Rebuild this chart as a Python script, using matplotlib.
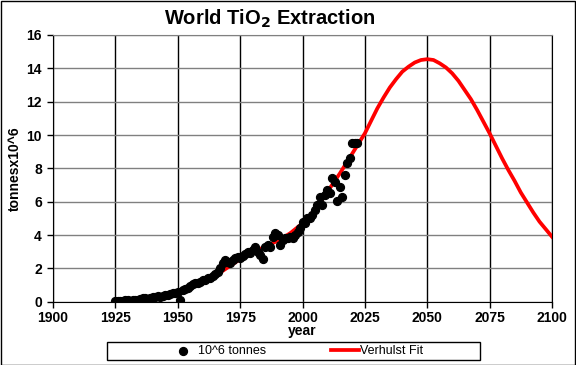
import matplotlib
matplotlib.use("Agg")
import matplotlib.pyplot as plt
from matplotlib.patches import Rectangle

plt.rcParams["font.family"] = ["Liberation Sans", "DejaVu Sans"]

# annual extraction, 10^6 tonnes
years = list(range(1925, 2023))
tonnes = [0.05, 0.05, 0.06, 0.07, 0.08, 0.08, 0.07, 0.08, 0.10, 0.13,
          0.17, 0.20, 0.22, 0.18, 0.22, 0.28, 0.30, 0.33, 0.30, 0.35,
          0.40, 0.42, 0.47, 0.50, 0.55, 0.60, 0.12, 0.70, 0.75, 0.80,
          0.95, 1.05, 1.15, 1.10, 1.20, 1.30, 1.30, 1.40, 1.45, 1.55,
          1.65, 1.80, 2.00, 2.30, 2.50, 2.40, 2.35, 2.50, 2.60, 2.70,
          2.65, 2.75, 2.85, 3.00, 2.90, 3.10, 3.30, 3.00, 2.80, 2.55,
          3.30, 3.40, 3.30, 3.90, 4.10, 4.00, 3.40, 3.70, 3.80, 3.80,
          3.90, 3.80, 4.00, 4.20, 4.40, 4.80, 4.70, 5.00, 5.00, 5.20,
          5.50, 5.80, 6.30, 5.80, 6.40, 6.70, 6.50, 7.40, 7.20, 6.05,
          6.90, 6.30, 7.60, 8.30, 8.60, 9.50, 9.50, 9.50]

# Verhulst fit curve
fit_years = [1925, 1930, 1935, 1940, 1945, 1950, 1955, 1960, 1965, 1970,
             1975, 1980, 1985, 1990, 1995, 2000, 2005, 2010, 2015, 2020,
             2022.5, 2025, 2027.5, 2030, 2032.5, 2035, 2037.5, 2040, 2042.5, 2045,
             2047.5, 2050, 2052.5, 2055, 2057.5, 2060, 2062.5, 2065, 2067.5, 2070,
             2072.5, 2075, 2077.5, 2080, 2082.5, 2085, 2087.5, 2090, 2092.5, 2095,
             2097.5, 2100]
fit_vals = [0.05, 0.10, 0.20, 0.30, 0.45, 0.65, 0.90, 1.20, 1.55, 2.05,
            2.55, 2.95, 3.30, 3.65, 4.10, 4.70, 5.50, 6.60, 7.70, 8.90,
            9.50, 10.10, 10.85, 11.60, 12.25, 12.85, 13.35, 13.80, 14.10, 14.35,
            14.50, 14.55, 14.50, 14.30, 14.05, 13.70, 13.25, 12.70, 12.15, 11.50,
            10.80, 10.10, 9.35, 8.60, 7.90, 7.25, 6.55, 5.95, 5.35, 4.80,
            4.35, 3.90]

xticks = list(range(1900, 2101, 25))
yticks = list(range(0, 17, 2))

fig = plt.figure(figsize=(5.76, 3.65), dpi=100)
ax = fig.add_axes([53/576, 1 - 301.7/365, 499/576, 266.7/365])

ax.plot(fit_years, fit_vals, color="#FF0000", lw=2.7, label="Verhulst Fit", zorder=3)
ax.scatter(years, tonnes, s=32, color="black", label="10^6 tonnes", zorder=4)

ax.set_xlim(1900, 2100)
ax.set_ylim(0, 16)
ax.set_xticks(xticks)
ax.set_yticks(yticks)
ax.tick_params(direction="out", length=4, width=1, labelsize=10)
ax.tick_params(axis="y", pad=4)
ax.tick_params(axis="x", pad=3)
for lbl in ax.get_xticklabels() + ax.get_yticklabels():
    lbl.set_fontweight("bold")
ax.grid(axis="x", color="black", lw=1)
ax.grid(axis="y", color="#808080", lw=1)
ax.set_axisbelow(True)
ax.spines["top"].set_color("#808080")
ax.spines["right"].set_color("black")

ax.set_xlabel("year", fontsize=10, fontweight="bold", labelpad=-1)
ax.set_ylabel("tonnesx10^6", fontsize=10, fontweight="bold", labelpad=3)

fig.text(270/576, 1 - 19/365, "World TiO$_\\mathbf{2}$ Extraction", ha="center", va="center",
         fontsize=14.5, fontweight="bold")

# legend: frameless entries inside a hand-drawn box
fig.patches.append(Rectangle((107/576, 1 - 360/365), 373/576, 18/365,
                             transform=fig.transFigure, fill=False,
                             edgecolor="black", lw=1))
h, l = ax.get_legend_handles_labels()
fig.legend(h[::-1], l[::-1], ncol=2, loc="center",
           bbox_to_anchor=(296/576, 1 - 351/365),
           frameon=False, fontsize=9, handlelength=2.2, handletextpad=0.1,
           columnspacing=5.2, borderaxespad=0, scatterpoints=1)

fig.patches.append(Rectangle((0.001, 0.001), 0.997, 0.997, transform=fig.transFigure,
                             fill=False, edgecolor="black", lw=1))

fig.savefig("out.png", dpi=100)
